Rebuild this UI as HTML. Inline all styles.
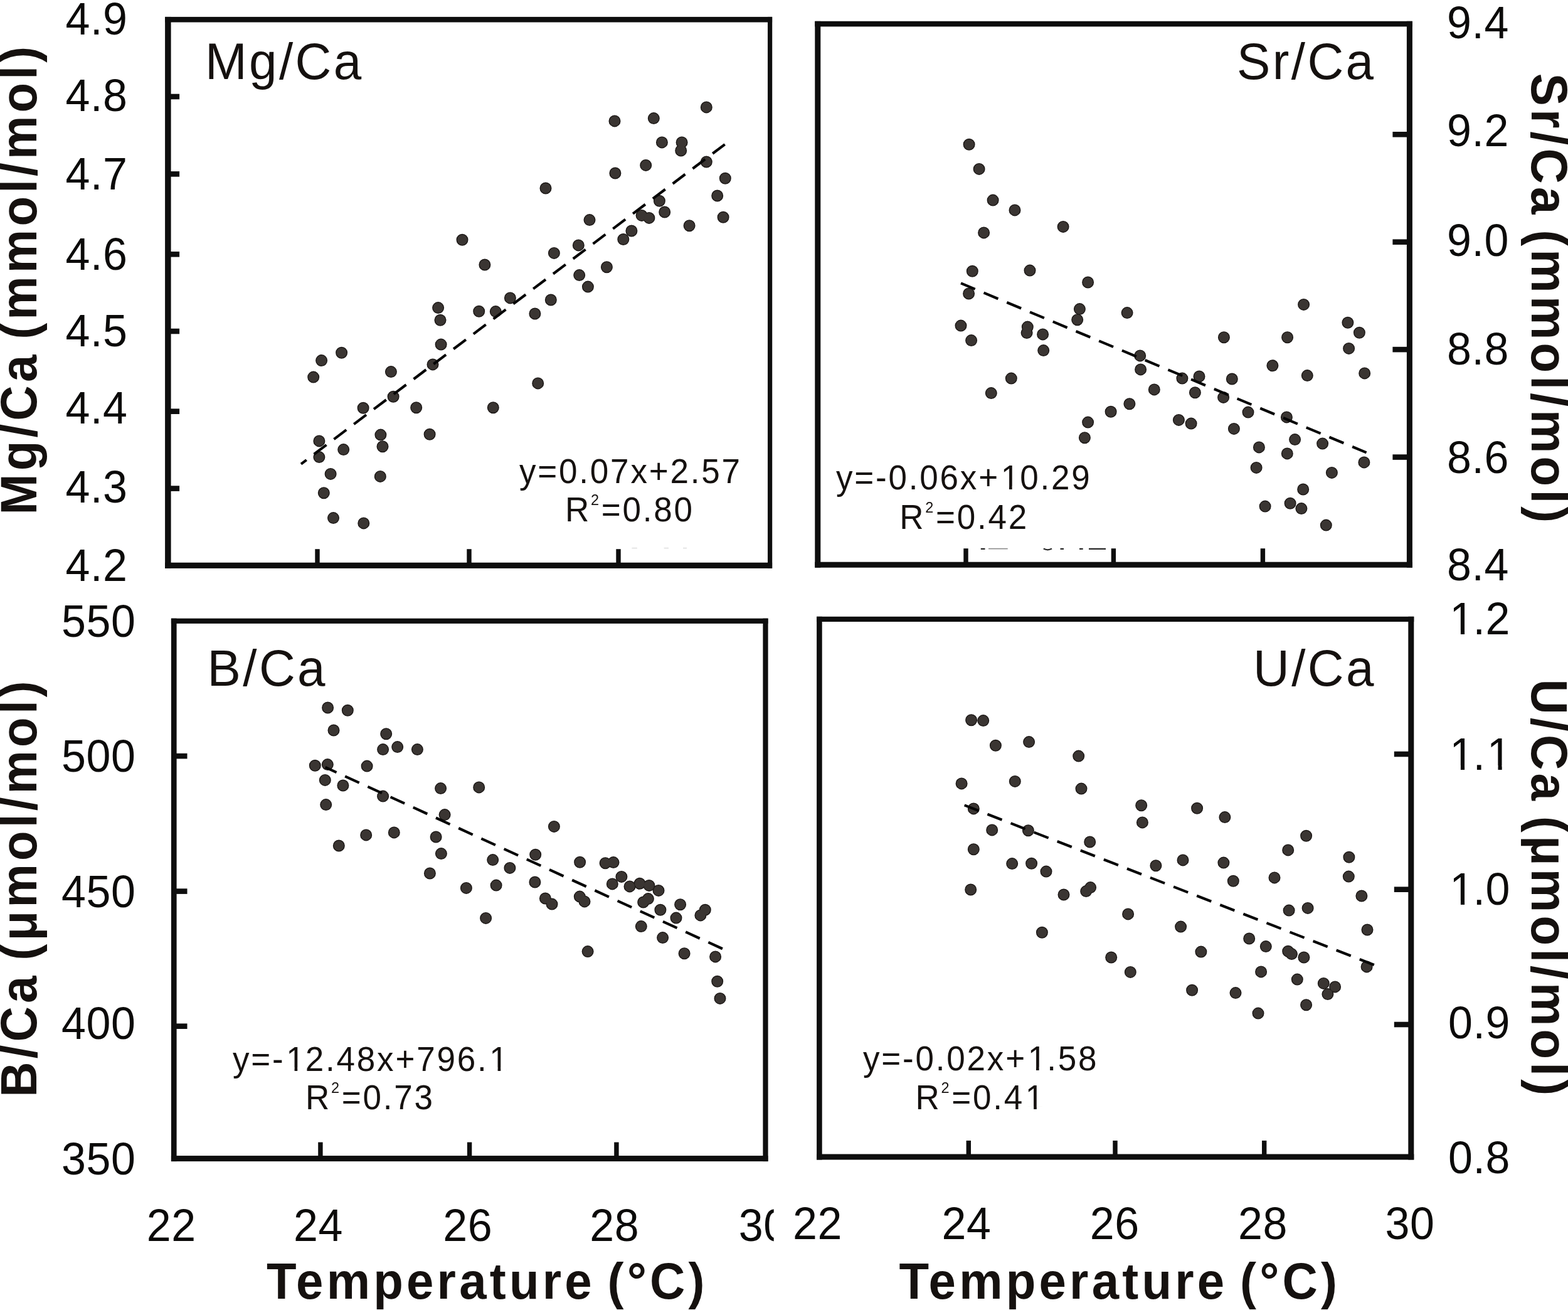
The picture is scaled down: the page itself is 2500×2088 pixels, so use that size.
<!DOCTYPE html>
<html lang="en"><head><meta charset="utf-8"><title>Element/Ca ratios versus temperature</title>
<style>
html,body{margin:0;padding:0;background:#fff;}
body{width:2500px;height:2088px;overflow:hidden;}
svg{display:block;font-family:"Liberation Sans",Arial,Helvetica,sans-serif;}
.rim{fill:#1a1614;stroke:#1a1614;stroke-width:2.8;}
.core{fill:#3a3532;}
.reg{stroke:#050505;stroke-width:4.2;stroke-dasharray:24.8 15;fill:none;}
.tl{font-size:70px;fill:#0b0a09;}
.ax{font-size:78px;font-weight:bold;fill:#15110f;letter-spacing:5.2px;word-spacing:-7.2px;}
.ti{font-size:80px;fill:#15110f;letter-spacing:3.4px;}
.an{font-size:53px;fill:#15110f;}
.sup{font-size:23.5px;}
.m{fill:#fff;}
.tl,.an{font-kerning:none;}
</style></head><body>
<svg xmlns="http://www.w3.org/2000/svg" width="2500" height="2088" viewBox="0 0 2500 2088">
<rect x="0" y="0" width="2500" height="2088" fill="#ffffff"/>
<g id="fig">
<g id="panel1" fill="#0e0e0e">
<rect x="263.1" y="26.9" width="968" height="8.6"/><rect x="263.1" y="896.7" width="968" height="9.2"/><rect x="263.1" y="26.9" width="9.5" height="879"/><rect x="1224" y="26.9" width="7.2" height="879"/>
<rect x="267.9" y="149.7" width="18.2" height="8.6"/><rect x="267.9" y="273.1" width="18.2" height="8.6"/><rect x="267.9" y="401" width="18.2" height="8.6"/><rect x="267.9" y="523.7" width="18.2" height="8.6"/><rect x="267.9" y="651.4" width="18.2" height="8.6"/><rect x="267.9" y="774.3" width="18.2" height="8.6"/><rect x="502.3" y="875.2" width="7.4" height="26.1"/><rect x="744.3" y="875.2" width="7.4" height="26.1"/><rect x="982.3" y="875.2" width="7.4" height="26.1"/>
</g>
<g id="panel2" fill="#0e0e0e">
<rect x="1299.3" y="33.8" width="952.6" height="8.6"/><rect x="1299.3" y="895.7" width="952.6" height="9"/><rect x="1299.3" y="33.8" width="9" height="870.9"/><rect x="2242.9" y="33.8" width="9" height="870.9"/>
<rect x="2220.4" y="210" width="27" height="8.6"/><rect x="2220.4" y="381.4" width="27" height="8.6"/><rect x="2220.4" y="552.8" width="27" height="8.6"/><rect x="2220.4" y="724.3" width="27" height="8.6"/><rect x="1536.3" y="874.2" width="7.4" height="26"/><rect x="1771.7" y="874.2" width="7.4" height="26"/><rect x="2009.7" y="874.2" width="7.4" height="26"/>
</g>
<g id="panel3" fill="#0e0e0e">
<rect x="272.9" y="985.7" width="951.6" height="8.2"/><rect x="272.9" y="1842.1" width="951.6" height="9"/><rect x="272.9" y="985.7" width="8.7" height="865.4"/><rect x="1216.4" y="985.7" width="8.2" height="865.4"/>
<rect x="277.3" y="1200.8" width="21.2" height="8.6"/><rect x="277.3" y="1416.3" width="21.2" height="8.6"/><rect x="277.3" y="1631.4" width="21.2" height="8.6"/><rect x="507.2" y="1820.6" width="7.4" height="26"/><rect x="744.9" y="1820.6" width="7.4" height="26"/><rect x="979.2" y="1820.6" width="7.4" height="26"/>
</g>
<g id="panel4" fill="#0e0e0e">
<rect x="1302.1" y="982.8" width="952.2" height="8.2"/><rect x="1302.1" y="1839.5" width="952.2" height="9"/><rect x="1302.1" y="982.8" width="8.6" height="865.7"/><rect x="2245.3" y="982.8" width="9" height="865.7"/>
<rect x="2222.8" y="1197.7" width="27" height="8.6"/><rect x="2222.8" y="1413.4" width="27" height="8.6"/><rect x="2222.8" y="1628.7" width="27" height="8.6"/><rect x="1540.6" y="1818" width="7.4" height="26"/><rect x="1774.3" y="1818" width="7.4" height="26"/><rect x="2012" y="1818" width="7.4" height="26"/>
</g>
<g id="slivers" fill="none" stroke-linecap="butt">
<path d="M1563.8 874.9h6.7M1663.8 874.6q6.6 3.4 13.2 0M1690.5 874.9h5.5M1721 874.9h5.7M1736 874.9h27" stroke="#2a2a2a" stroke-width="2.2"/>
<path d="M1576 874.6h30.7" stroke="#8a8a8a" stroke-width="1.6"/>
<path d="M1007.4 873.6h8.4M1058.7 873.6h7.3M1089 873.6h6" stroke="#e2e2e2" stroke-width="1.6"/>
</g>
<defs>
<g id="pts1"><circle cx="870" cy="300" r="8.1"/><circle cx="940" cy="350.6" r="8.1"/><circle cx="737" cy="382.3" r="8.1"/><circle cx="993.8" cy="381.5" r="8.1"/><circle cx="922.3" cy="390.9" r="8.1"/><circle cx="883.4" cy="403.4" r="8.1"/><circle cx="772.9" cy="422" r="8.1"/><circle cx="967.4" cy="425.7" r="8.1"/><circle cx="923.7" cy="438.6" r="8.1"/><circle cx="937.4" cy="457.1" r="8.1"/><circle cx="813.4" cy="474.9" r="8.1"/><circle cx="878.3" cy="478" r="8.1"/><circle cx="698.6" cy="490.6" r="8.1"/><circle cx="763.7" cy="496.3" r="8.1"/><circle cx="790.3" cy="496.6" r="8.1"/><circle cx="852.9" cy="500" r="8.1"/><circle cx="702" cy="510.3" r="8.1"/><circle cx="703.1" cy="549.1" r="8.1"/><circle cx="544.6" cy="562.3" r="8.1"/><circle cx="512.6" cy="574.6" r="8.1"/><circle cx="690" cy="580.9" r="8.1"/><circle cx="623.4" cy="592.6" r="8.1"/><circle cx="499.7" cy="601.1" r="8.1"/><circle cx="857.7" cy="610.9" r="8.1"/><circle cx="627.1" cy="632.3" r="8.1"/><circle cx="579.1" cy="650.3" r="8.1"/><circle cx="663.7" cy="649.7" r="8.1"/><circle cx="786.3" cy="649.7" r="8.1"/><circle cx="606.9" cy="693.1" r="8.1"/><circle cx="685.1" cy="692.3" r="8.1"/><circle cx="508.9" cy="702.9" r="8.1"/><circle cx="610" cy="711.7" r="8.1"/><circle cx="547.7" cy="716.6" r="8.1"/><circle cx="508.9" cy="728.6" r="8.1"/><circle cx="527.1" cy="755.4" r="8.1"/><circle cx="606.3" cy="759.4" r="8.1"/><circle cx="516.3" cy="785.7" r="8.1"/><circle cx="1126.3" cy="170.9" r="8.1"/><circle cx="1042.3" cy="188.6" r="8.1"/><circle cx="980" cy="192.9" r="8.1"/><circle cx="1055.4" cy="226.9" r="8.1"/><circle cx="1087.1" cy="226.9" r="8.1"/><circle cx="1085.7" cy="240" r="8.1"/><circle cx="1126.3" cy="258" r="8.1"/><circle cx="1029.7" cy="263.4" r="8.1"/><circle cx="980.9" cy="276" r="8.1"/><circle cx="1156.3" cy="284.3" r="8.1"/><circle cx="1143.7" cy="312" r="8.1"/><circle cx="1051.4" cy="320.3" r="8.1"/><circle cx="1059.7" cy="338" r="8.1"/><circle cx="1023.1" cy="343.4" r="8.1"/><circle cx="1034.9" cy="347.4" r="8.1"/><circle cx="1153.1" cy="346.3" r="8.1"/><circle cx="1099.1" cy="359.7" r="8.1"/><circle cx="1006.9" cy="368" r="8.1"/><circle cx="531.5" cy="825.6" r="8.1"/><circle cx="579.8" cy="833.9" r="8.1"/></g>
<g id="pts2"><circle cx="1545.1" cy="230.3" r="8.1"/><circle cx="1561.1" cy="269.4" r="8.1"/><circle cx="1583.1" cy="319.1" r="8.1"/><circle cx="1618" cy="334.9" r="8.1"/><circle cx="1695.1" cy="361.4" r="8.1"/><circle cx="1568.6" cy="370.9" r="8.1"/><circle cx="1550.3" cy="432.3" r="8.1"/><circle cx="1642" cy="431.1" r="8.1"/><circle cx="1734.6" cy="450" r="8.1"/><circle cx="1544.6" cy="468" r="8.1"/><circle cx="1721.4" cy="492.6" r="8.1"/><circle cx="1797.1" cy="498.6" r="8.1"/><circle cx="1717.7" cy="509.7" r="8.1"/><circle cx="1532" cy="519.1" r="8.1"/><circle cx="1638.3" cy="521.1" r="8.1"/><circle cx="1637.1" cy="530.6" r="8.1"/><circle cx="1662.6" cy="532.9" r="8.1"/><circle cx="1548.6" cy="542.6" r="8.1"/><circle cx="1951.4" cy="537.7" r="8.1"/><circle cx="1663.7" cy="558.6" r="8.1"/><circle cx="1817.7" cy="566.9" r="8.1"/><circle cx="1818.6" cy="588.9" r="8.1"/><circle cx="1612.3" cy="603.1" r="8.1"/><circle cx="1884.9" cy="603.1" r="8.1"/><circle cx="1912" cy="600" r="8.1"/><circle cx="1964.3" cy="604" r="8.1"/><circle cx="1840.3" cy="620.9" r="8.1"/><circle cx="1580.3" cy="626.6" r="8.1"/><circle cx="1905.4" cy="625.7" r="8.1"/><circle cx="1950.6" cy="633.4" r="8.1"/><circle cx="1800.9" cy="643.8" r="8.1"/><circle cx="2078.6" cy="485.4" r="8.1"/><circle cx="2148.9" cy="514.3" r="8.1"/><circle cx="2167.4" cy="530.3" r="8.1"/><circle cx="2052.6" cy="537.7" r="8.1"/><circle cx="2150.6" cy="555.4" r="8.1"/><circle cx="2028.9" cy="582.8" r="8.1"/><circle cx="2175.7" cy="594.9" r="8.1"/><circle cx="2084.3" cy="598.6" r="8.1"/><circle cx="1771.1" cy="656.3" r="8.1"/><circle cx="1990" cy="657.1" r="8.1"/><circle cx="2051.4" cy="664.9" r="8.1"/><circle cx="1879.4" cy="669.4" r="8.1"/><circle cx="1899.1" cy="675.1" r="8.1"/><circle cx="1734.6" cy="673.1" r="8.1"/><circle cx="1967.4" cy="683.4" r="8.1"/><circle cx="1729.4" cy="697.7" r="8.1"/><circle cx="2064.6" cy="700.6" r="8.1"/><circle cx="2108.6" cy="707.1" r="8.1"/><circle cx="2007.4" cy="712.9" r="8.1"/><circle cx="2052.3" cy="722.9" r="8.1"/><circle cx="2174.9" cy="736.9" r="8.1"/><circle cx="2003.1" cy="745.4" r="8.1"/><circle cx="2123.4" cy="753.4" r="8.1"/><circle cx="2077.7" cy="780" r="8.1"/><circle cx="2017.1" cy="807.1" r="8.1"/><circle cx="2057.1" cy="802.3" r="8.1"/><circle cx="2074.9" cy="810.6" r="8.1"/><circle cx="2114.3" cy="837.1" r="8.1"/></g>
<g id="pts3"><circle cx="522.6" cy="1128" r="8.1"/><circle cx="554.3" cy="1132.3" r="8.1"/><circle cx="532" cy="1164" r="8.1"/><circle cx="615.7" cy="1169.7" r="8.1"/><circle cx="610.6" cy="1194.6" r="8.1"/><circle cx="633.7" cy="1190.6" r="8.1"/><circle cx="665.4" cy="1194.6" r="8.1"/><circle cx="502.3" cy="1220.3" r="8.1"/><circle cx="522.3" cy="1218.6" r="8.1"/><circle cx="585.1" cy="1221.1" r="8.1"/><circle cx="518.3" cy="1243.4" r="8.1"/><circle cx="546.9" cy="1252" r="8.1"/><circle cx="702.6" cy="1256.6" r="8.1"/><circle cx="763.7" cy="1254.9" r="8.1"/><circle cx="610.6" cy="1269.1" r="8.1"/><circle cx="519.7" cy="1282.6" r="8.1"/><circle cx="709.1" cy="1298.6" r="8.1"/><circle cx="883.4" cy="1317.4" r="8.1"/><circle cx="583.7" cy="1330.9" r="8.1"/><circle cx="628.3" cy="1326.9" r="8.1"/><circle cx="695.1" cy="1334" r="8.1"/><circle cx="540.3" cy="1348" r="8.1"/><circle cx="703.4" cy="1360.6" r="8.1"/><circle cx="853.7" cy="1362.3" r="8.1"/><circle cx="785.7" cy="1370.6" r="8.1"/><circle cx="924.6" cy="1374.3" r="8.1"/><circle cx="965.1" cy="1375.7" r="8.1"/><circle cx="978" cy="1374.6" r="8.1"/><circle cx="812.9" cy="1383.4" r="8.1"/><circle cx="685.4" cy="1392" r="8.1"/><circle cx="990.9" cy="1397.4" r="8.1"/><circle cx="852.9" cy="1406" r="8.1"/><circle cx="976.3" cy="1408.9" r="8.1"/><circle cx="743.4" cy="1415.4" r="8.1"/><circle cx="791.1" cy="1411.1" r="8.1"/><circle cx="869.4" cy="1432" r="8.1"/><circle cx="880" cy="1441.1" r="8.1"/><circle cx="924.3" cy="1429.1" r="8.1"/><circle cx="932" cy="1436.9" r="8.1"/><circle cx="774.6" cy="1463.4" r="8.1"/><circle cx="937.1" cy="1516.6" r="8.1"/><circle cx="1004" cy="1412.9" r="8.1"/><circle cx="1020" cy="1408.3" r="8.1"/><circle cx="1034.9" cy="1411.4" r="8.1"/><circle cx="1050" cy="1419.4" r="8.1"/><circle cx="1033.4" cy="1432.6" r="8.1"/><circle cx="1025.7" cy="1438" r="8.1"/><circle cx="1084.6" cy="1441.7" r="8.1"/><circle cx="1052.9" cy="1450.3" r="8.1"/><circle cx="1124.3" cy="1450.3" r="8.1"/><circle cx="1116.9" cy="1458.9" r="8.1"/><circle cx="1078" cy="1463.1" r="8.1"/><circle cx="1022.3" cy="1476.6" r="8.1"/><circle cx="1056.6" cy="1494.6" r="8.1"/><circle cx="1091.1" cy="1519.7" r="8.1"/><circle cx="1140.6" cy="1524.9" r="8.1"/><circle cx="1143.7" cy="1564.3" r="8.1"/><circle cx="1148" cy="1591.4" r="8.1"/></g>
<g id="pts4"><circle cx="1548.6" cy="1147.7" r="8.1"/><circle cx="1567.7" cy="1148.6" r="8.1"/><circle cx="1587.4" cy="1188.3" r="8.1"/><circle cx="1640.6" cy="1182.6" r="8.1"/><circle cx="1719.7" cy="1205.1" r="8.1"/><circle cx="1533.1" cy="1248.9" r="8.1"/><circle cx="1618.3" cy="1245.4" r="8.1"/><circle cx="1724" cy="1257.1" r="8.1"/><circle cx="1819.7" cy="1283.7" r="8.1"/><circle cx="1908.6" cy="1288.3" r="8.1"/><circle cx="1552.3" cy="1288.9" r="8.1"/><circle cx="1952.9" cy="1302.6" r="8.1"/><circle cx="1821.4" cy="1310.9" r="8.1"/><circle cx="1581.7" cy="1322.9" r="8.1"/><circle cx="1639.4" cy="1323.7" r="8.1"/><circle cx="1737.7" cy="1342" r="8.1"/><circle cx="1552.3" cy="1353.7" r="8.1"/><circle cx="1886" cy="1370.9" r="8.1"/><circle cx="1613.7" cy="1376.6" r="8.1"/><circle cx="1644.6" cy="1376.3" r="8.1"/><circle cx="1842.9" cy="1379.7" r="8.1"/><circle cx="1950.9" cy="1375.1" r="8.1"/><circle cx="1668" cy="1389.1" r="8.1"/><circle cx="2032" cy="1398.9" r="8.1"/><circle cx="1966.3" cy="1404.3" r="8.1"/><circle cx="1738.6" cy="1414.6" r="8.1"/><circle cx="1731.7" cy="1420.6" r="8.1"/><circle cx="1547.7" cy="1418" r="8.1"/><circle cx="1696" cy="1426" r="8.1"/><circle cx="1798.6" cy="1456.9" r="8.1"/><circle cx="1882.6" cy="1477.1" r="8.1"/><circle cx="1661.4" cy="1486.3" r="8.1"/><circle cx="1991.7" cy="1496" r="8.1"/><circle cx="2018.3" cy="1508.6" r="8.1"/><circle cx="1914.9" cy="1517.1" r="8.1"/><circle cx="1771.7" cy="1526" r="8.1"/><circle cx="1802.3" cy="1549.4" r="8.1"/><circle cx="2010.6" cy="1548.9" r="8.1"/><circle cx="2082.6" cy="1332.3" r="8.1"/><circle cx="2053.7" cy="1354.9" r="8.1"/><circle cx="2150.9" cy="1366.3" r="8.1"/><circle cx="2150.3" cy="1397.1" r="8.1"/><circle cx="2170.9" cy="1428" r="8.1"/><circle cx="2085.1" cy="1447.4" r="8.1"/><circle cx="2055.1" cy="1451.1" r="8.1"/><circle cx="2180" cy="1482" r="8.1"/><circle cx="2053.7" cy="1516.3" r="8.1"/><circle cx="2059.4" cy="1520.6" r="8.1"/><circle cx="2078.9" cy="1526" r="8.1"/><circle cx="2179.1" cy="1540.9" r="8.1"/><circle cx="2068.3" cy="1561.1" r="8.1"/><circle cx="2110.3" cy="1567.4" r="8.1"/><circle cx="2128.6" cy="1572.9" r="8.1"/><circle cx="2116.9" cy="1584.6" r="8.1"/><circle cx="1900.6" cy="1578.3" r="8.1"/><circle cx="1970" cy="1582.6" r="8.1"/><circle cx="2082.6" cy="1601.7" r="8.1"/><circle cx="2006" cy="1615.1" r="8.1"/></g>
</defs>
<g class="d" id="dots1"><use href="#pts1" class="rim"/><use href="#pts1" class="core"/></g>
<g class="d" id="dots2"><use href="#pts2" class="rim"/><use href="#pts2" class="core"/></g>
<g class="d" id="dots3"><use href="#pts3" class="rim"/><use href="#pts3" class="core"/></g>
<g class="d" id="dots4"><use href="#pts4" class="rim"/><use href="#pts4" class="core"/></g>
<line class="reg" x1="1155.7" y1="230.1" x2="480" y2="739.6" stroke-dashoffset="0.4"/>
<line class="reg" x1="1532" y1="451.4" x2="2178.6" y2="721.4" stroke-dashoffset="0.2"/>
<line class="reg" x1="518.6" y1="1222.9" x2="1152" y2="1512.3" stroke-dashoffset="5.1"/>
<line class="reg" x1="1537.7" y1="1283.4" x2="2190.9" y2="1538" stroke-dashoffset="0.4"/>
<g transform="translate(104.5 54.5) scale(1 1.035)"><text class="tl"><tspan x="0 39.53 59.58" y="0">4.9</tspan></text></g>
<g transform="translate(104.5 177.3) scale(1 1.035)"><text class="tl"><tspan x="0 39.53 59.58" y="0">4.8</tspan></text></g>
<g transform="translate(104.5 302.2) scale(1 1.035)"><text class="tl"><tspan x="0 39.53 59.58" y="0">4.7</tspan></text></g>
<g transform="translate(104.5 429.6) scale(1 1.035)"><text class="tl"><tspan x="0 39.53 59.58" y="0">4.6</tspan></text></g>
<g transform="translate(104.5 552.1) scale(1 1.035)"><text class="tl"><tspan x="0 39.53 59.58" y="0">4.5</tspan></text></g>
<g transform="translate(104.5 674.5) scale(1 1.035)"><text class="tl"><tspan x="0 39.53 59.58" y="0">4.4</tspan></text></g>
<g transform="translate(104.5 801.1) scale(1 1.035)"><text class="tl"><tspan x="0 39.53 59.58" y="0">4.3</tspan></text></g>
<g transform="translate(104.5 925.5) scale(1 1.035)"><text class="tl"><tspan x="0 39.53 59.58" y="0">4.2</tspan></text></g>
<g transform="translate(98 1015) scale(1 1.035)"><text class="tl"><tspan x="0 39.53 79.06" y="0">550</tspan></text></g>
<g transform="translate(98 1230.2) scale(1 1.035)"><text class="tl"><tspan x="0 39.53 79.06" y="0">500</tspan></text></g>
<g transform="translate(98 1445.5) scale(1 1.035)"><text class="tl"><tspan x="0 39.53 79.06" y="0">450</tspan></text></g>
<g transform="translate(98 1656.4) scale(1 1.035)"><text class="tl"><tspan x="0 39.53 79.06" y="0">400</tspan></text></g>
<g transform="translate(98 1872.4) scale(1 1.035)"><text class="tl"><tspan x="0 39.53 79.06" y="0">350</tspan></text></g>
<g transform="translate(2307 61) scale(1 1.035)"><text class="tl"><tspan x="0 39.53 59.58" y="0">9.4</tspan></text></g>
<g transform="translate(2307 232.8) scale(1 1.035)"><text class="tl"><tspan x="0 39.53 59.58" y="0">9.2</tspan></text></g>
<g transform="translate(2307 408.4) scale(1 1.035)"><text class="tl"><tspan x="0 39.53 59.58" y="0">9.0</tspan></text></g>
<g transform="translate(2307 581) scale(1 1.035)"><text class="tl"><tspan x="0 39.53 59.58" y="0">8.8</tspan></text></g>
<g transform="translate(2307 753.9) scale(1 1.035)"><text class="tl"><tspan x="0 39.53 59.58" y="0">8.6</tspan></text></g>
<g transform="translate(2307 924.6) scale(1 1.035)"><text class="tl"><tspan x="0 39.53 59.58" y="0">8.4</tspan></text></g>
<g transform="translate(2309 1011) scale(1 1.035)"><text class="tl"><tspan x="2.3 39.53 59.58" y="0">1.2</tspan></text><rect class="m" x="6.5" y="-6.03" width="13.4" height="6.83"/><rect class="m" x="26.08" y="-6.03" width="12.61" height="6.83"/></g>
<g transform="translate(2309 1226.5) scale(1 1.035)"><text class="tl"><tspan x="2.3 39.53 61.87" y="0">1.1</tspan></text><rect class="m" x="6.5" y="-6.03" width="13.4" height="6.83"/><rect class="m" x="26.08" y="-6.03" width="12.61" height="6.83"/><rect class="m" x="66.07" y="-6.03" width="13.41" height="6.83"/><rect class="m" x="85.66" y="-6.03" width="12.61" height="6.83"/></g>
<g transform="translate(2309 1441.8) scale(1 1.035)"><text class="tl"><tspan x="2.3 39.53 59.58" y="0">1.0</tspan></text><rect class="m" x="6.5" y="-6.03" width="13.4" height="6.83"/><rect class="m" x="26.08" y="-6.03" width="12.61" height="6.83"/></g>
<g transform="translate(2309 1655.4) scale(1 1.035)"><text class="tl"><tspan x="0 39.53 59.58" y="0">0.9</tspan></text></g>
<g transform="translate(2309 1870.4) scale(1 1.035)"><text class="tl"><tspan x="0 39.53 59.58" y="0">0.8</tspan></text></g>
<defs><clipPath id="cutL"><rect x="0" y="1880" width="1233.7" height="208"/></clipPath></defs>
<g clip-path="url(#cutL)">
<g transform="translate(233.8 1978) scale(1 1.035)"><text class="tl"><tspan x="0 39.53" y="0">22</tspan></text></g>
<g transform="translate(468.1 1978) scale(1 1.035)"><text class="tl"><tspan x="0 39.53" y="0">24</tspan></text></g>
<g transform="translate(706.2 1978) scale(1 1.035)"><text class="tl"><tspan x="0 39.53" y="0">26</tspan></text></g>
<g transform="translate(940.2 1978) scale(1 1.035)"><text class="tl"><tspan x="0 39.53" y="0">28</tspan></text></g>
<g transform="translate(1177.8 1978) scale(1 1.035)"><text class="tl"><tspan x="0 39.53" y="0">30</tspan></text></g>
</g>
<g transform="translate(1263.9 1975) scale(1 1.035)"><text class="tl"><tspan x="0 39.53" y="0">22</tspan></text></g>
<g transform="translate(1501.5 1975) scale(1 1.035)"><text class="tl"><tspan x="0 39.53" y="0">24</tspan></text></g>
<g transform="translate(1737.8 1975) scale(1 1.035)"><text class="tl"><tspan x="0 39.53" y="0">26</tspan></text></g>
<g transform="translate(1974.1 1975) scale(1 1.035)"><text class="tl"><tspan x="0 39.53" y="0">28</tspan></text></g>
<g transform="translate(2208.4 1975) scale(1 1.035)"><text class="tl"><tspan x="0 39.53" y="0">30</tspan></text></g>
<text class="ax" transform="translate(425 2070.2) scale(1 1.045)">Temperature (°C)</text>
<text class="ax" transform="translate(1433.5 2070.3) scale(1 1.045)">Temperature (°C)</text>
<text class="ax" transform="translate(57.5 820.5) rotate(-90) scale(1 1.04)">Mg/Ca (mmol/mol)</text>
<text class="ax" transform="translate(57.5 1748.8) rotate(-90) scale(1 1.04)">B/Ca (μmol/mol)</text>
<text class="ax" transform="translate(2442 116.8) rotate(90) scale(1 1.04)">Sr/Ca (mmol/mol)</text>
<text class="ax" transform="translate(2442 1082.6) rotate(90) scale(1 1.04)">U/Ca (μmol/mol)</text>
<text class="ti" transform="translate(327 126) scale(1 1.03)">Mg/Ca</text>
<text class="ti" transform="translate(1972 126) scale(1 1.03)">Sr/Ca</text>
<text class="ti" transform="translate(330.6 1093) scale(1 1.03)">B/Ca</text>
<text class="ti" transform="translate(1998 1093) scale(1 1.03)">U/Ca</text>
<g transform="translate(828 770) scale(1 1.03)"><text class="an"><tspan x="0 29.3 63.05 95.33 112.85 145.13 177.4 206.7 240.46 272.73 290.26 322.53" y="0">y=0.07x+2.57</tspan></text></g>
<g transform="translate(901 830.9) scale(1 1.03)"><text class="an"><tspan x="0" y="0">R</tspan><tspan class="sup" x="41.07" y="-25">2</tspan><tspan x="57.74 91.5 123.77 141.3 173.57" y="0">=0.80</tspan></text></g>
<g transform="translate(1333 779.8) scale(1 1.03)"><text class="an"><tspan x="0 29.3 63.05 83.5 115.78 133.3 165.58 197.85 227.15 262.64 293.18 325.46 342.98 375.26" y="0">y=-0.06x+10.29</tspan></text><rect class="m" x="265.82" y="-4.76" width="10.15" height="5.56"/><rect class="m" x="280.65" y="-4.76" width="9.55" height="5.56"/></g>
<g transform="translate(1434.3 842.5) scale(1 1.03)"><text class="an"><tspan x="0" y="0">R</tspan><tspan class="sup" x="41.07" y="-25">2</tspan><tspan x="57.74 91.5 123.77 141.3 173.57" y="0">=0.42</tspan></text></g>
<g transform="translate(371 1706.6) scale(1 1.03)"><text class="an"><tspan x="0 29.3 63.05 85.24 115.78 148.05 165.58 197.85 230.13 259.43 293.18 325.46 357.73 390.01 409.27" y="0">y=-12.48x+796.1</tspan></text><rect class="m" x="88.42" y="-4.76" width="10.15" height="5.56"/><rect class="m" x="103.25" y="-4.76" width="9.55" height="5.56"/><rect class="m" x="412.45" y="-4.76" width="10.15" height="5.56"/><rect class="m" x="427.28" y="-4.76" width="9.55" height="5.56"/></g>
<g transform="translate(487 1768) scale(1 1.03)"><text class="an"><tspan x="0" y="0">R</tspan><tspan class="sup" x="41.07" y="-25">2</tspan><tspan x="57.74 91.5 123.77 141.3 173.57" y="0">=0.73</tspan></text></g>
<g transform="translate(1376 1705.7) scale(1 1.03)"><text class="an"><tspan x="0 29.3 63.05 83.5 115.78 133.3 165.58 197.85 227.15 262.64 293.18 310.71 342.98" y="0">y=-0.02x+1.58</tspan></text><rect class="m" x="265.82" y="-4.76" width="10.15" height="5.56"/><rect class="m" x="280.65" y="-4.76" width="9.55" height="5.56"/></g>
<g transform="translate(1459.5 1768) scale(1 1.03)"><text class="an"><tspan x="0" y="0">R</tspan><tspan class="sup" x="41.07" y="-25">2</tspan><tspan x="57.74 91.5 123.77 141.3 175.31" y="0">=0.41</tspan></text><rect class="m" x="178.49" y="-4.76" width="10.15" height="5.56"/><rect class="m" x="193.32" y="-4.76" width="9.55" height="5.56"/></g>
</g>
</svg>
</body></html>
